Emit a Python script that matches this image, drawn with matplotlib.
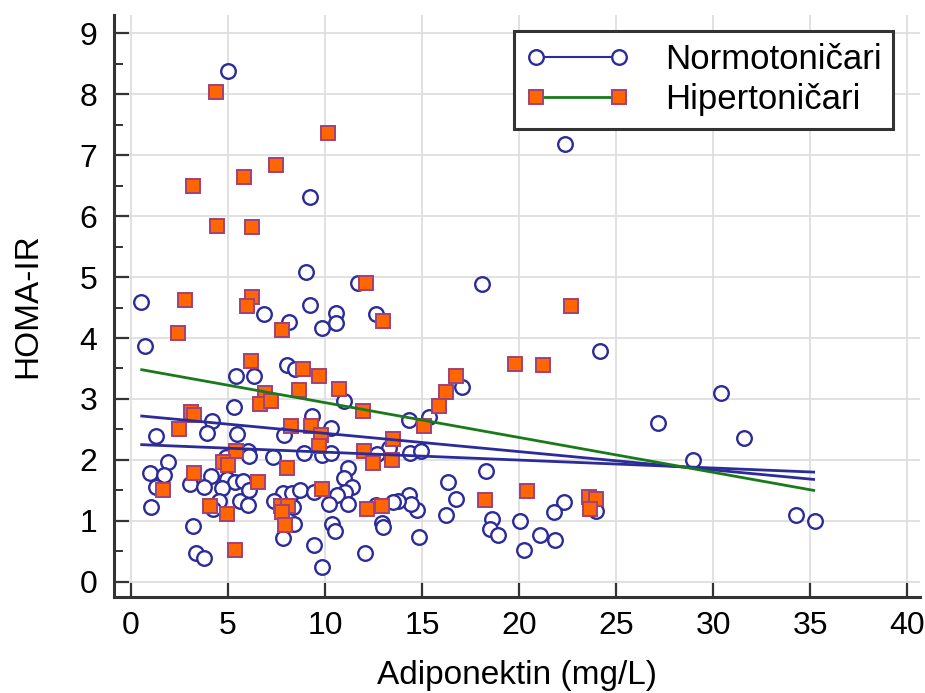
import matplotlib
matplotlib.use("Agg")
import matplotlib.pyplot as plt
from matplotlib.lines import Line2D

plt.rcParams["font.family"] = ["Liberation Sans", "DejaVu Sans"]

# Normotoničari (adiponektin mg/L, HOMA-IR)
normo_x = [5.02, 9.21, 8.99, 11.68, 22.37, 18.1, 12.63, 24.18, 17.06, 14.33,
           15.36, 13.27, 12.66, 14.35, 14.93, 18.28, 16.31, 14.31, 16.72, 22.32,
           23.94, 21.77, 18.59, 20.05, 18.5, 18.9, 21.05, 21.86, 20.27, 16.24,
           14.74, 14.42, 13.75, 13.49, 12.63, 12.94, 12.98, 14.83, 12.08, 27.13,
           30.41, 31.6, 28.97, 34.26, 35.24,
           0.53, 0.7, 5.43, 6.31, 5.31, 4.18, 3.93, 5.46, 1.31,
           9.24, 6.86, 8.16, 9.86, 10.55, 10.55, 8.02, 8.45, 10.96, 9.31, 10.29, 7.9,
           4.91, 1.91, 1.0, 1.69, 4.14, 4.96, 5.38, 5.77, 1.27, 3.02, 3.76, 4.71,
           5.6, 4.54, 4.23, 1.01, 3.2, 3.33, 3.76,
           6.01, 6.08, 7.34, 8.93, 9.86, 10.28, 11.17, 10.95, 11.38, 11.0, 10.6,
           6.08, 6.01, 7.85, 8.28, 8.71, 7.39, 8.33, 8.42, 9.45, 10.21, 11.17,
           10.35, 10.52, 7.85, 9.43, 9.83]
normo_y = [8.38, 6.32, 5.09, 4.91, 7.19, 4.88, 4.4, 3.79, 3.19, 2.66,
           2.71, 2.19, 2.09, 2.12, 2.15, 1.81, 1.63, 1.43, 1.36, 1.31,
           1.16, 1.14, 1.03, 0.99, 0.87, 0.77, 0.77, 0.69, 0.52, 1.1,
           1.18, 1.27, 1.33, 1.31, 1.26, 0.96, 0.9, 0.74, 0.48, 2.6,
           3.09, 2.36, 2.0, 1.09, 1.0,
           4.59, 3.87, 3.38, 3.37, 2.86, 2.64, 2.44, 2.43, 2.4,
           4.54, 4.4, 4.27, 4.16, 4.41, 4.25, 3.56, 3.49, 2.97, 2.72, 2.53, 2.41,
           2.05, 1.97, 1.78, 1.75, 1.74, 1.68, 1.64, 1.66, 1.55, 1.6, 1.56, 1.54,
           1.33, 1.32, 1.2, 1.23, 0.92, 0.48, 0.39,
           2.14, 2.07, 2.05, 2.11, 2.08, 2.11, 1.87, 1.7, 1.56, 1.48, 1.43,
           1.51, 1.26, 1.46, 1.46, 1.51, 1.33, 1.23, 0.95, 1.47, 1.28, 1.28,
           0.95, 0.84, 0.72, 0.61, 0.25]

# Hipertoničari
hiper_x = [4.38, 10.14, 7.49, 5.84, 3.21, 4.42, 6.25, 12.11, 22.66, 12.97,
           19.79, 21.2, 16.75, 16.22, 15.86, 15.07, 11.94, 13.49, 11.98, 12.46,
           13.44, 20.4, 18.23, 23.59, 23.97, 23.66, 12.15, 12.92,
           2.8, 2.42, 6.25, 6.0, 6.19, 3.1, 3.25, 2.46,
           7.8, 8.85, 9.66, 6.91, 6.65, 7.22, 8.64, 10.72, 8.23, 9.28, 9.79,
           5.43, 4.74, 4.98, 3.25, 1.65, 4.09, 4.95, 5.38,
           9.66, 8.02, 6.53, 7.73, 8.08, 7.77, 7.94, 9.83]
hiper_y = [8.04, 7.37, 6.84, 6.64, 6.5, 5.84, 5.82, 4.91, 4.53, 4.28,
           3.57, 3.56, 3.37, 3.12, 2.89, 2.55, 2.8, 2.34, 2.14, 1.95,
           2.0, 1.49, 1.34, 1.39, 1.36, 1.19, 1.2, 1.25,
           4.62, 4.09, 4.67, 4.52, 3.63, 2.78, 2.74, 2.51,
           4.13, 3.49, 3.38, 3.09, 2.91, 2.97, 3.14, 3.16, 2.56, 2.55, 2.41,
           2.14, 1.96, 1.91, 1.78, 1.51, 1.25, 1.11, 0.52,
           2.22, 1.86, 1.63, 1.25, 1.25, 1.14, 0.93, 1.52]

# regression lines (end points)
line_x = [0.55, 35.17]
normo_line1_y = [2.72, 1.68]
normo_line2_y = [2.25, 1.80]
hiper_line_y = [3.48, 1.50]

blue = "#2b2b99"
green = "#1a7a1a"
orange = "#ff6600"
sq_edge = "#a2407a"

fig = plt.figure(figsize=(9.25, 6.93), dpi=100)
ax = fig.add_axes([0.1232, 0.1385, 0.8714, 0.8398])

ax.plot(normo_x, normo_y, "o", ms=10.5, mfc="white", mec=blue, mew=1.7,
        linestyle="none", zorder=3)
ax.plot(hiper_x, hiper_y, "s", ms=10.5, mfc=orange, mec=sq_edge, mew=1.4,
        linestyle="none", zorder=3)

ax.plot(line_x, normo_line1_y, color=blue, lw=2.0, zorder=4)
ax.plot(line_x, normo_line2_y, color=blue, lw=2.0, zorder=4)
ax.plot(line_x, hiper_line_y, color=green, lw=2.0, zorder=4)

ax.set_xlim(-0.88, 40.65)
ax.set_ylim(-0.25, 9.3)
ax.set_xticks(range(0, 41, 5))
ax.set_yticks(range(0, 10))
ax.set_yticks([i + 0.5 for i in range(9)], minor=True)

ax.grid(True, color="#dedede", lw=1.3, zorder=0)
ax.set_axisbelow(True)

for side in ["top", "right"]:
    ax.spines[side].set_visible(False)
for side in ["left", "bottom"]:
    ax.spines[side].set_linewidth(2.2)
    ax.spines[side].set_color("#333333")

ax.tick_params(axis="both", which="major", direction="in", length=11,
               width=1.6, color="#333333", labelsize=23, pad=10)
ax.tick_params(axis="y", which="major", pad=12)
ax.tick_params(axis="y", which="minor", direction="in", length=6.5,
               width=1.4, color="#333333")

ax.set_xlabel("Adiponektin (mg/L)", fontsize=24, labelpad=14)
ax.set_ylabel("HOMA-IR", fontsize=24, labelpad=26)

handles = [
    Line2D([], [], color=blue, lw=1.5, marker="o", ms=10.5, mfc="white",
           mec=blue, mew=1.7),
    Line2D([], [], color=green, lw=2.0, marker="s", ms=10.5, mfc=orange,
           mec=sq_edge, mew=1.4),
]
leg = ax.legend(handles, ["Normotoničari", "Hipertoničari"], numpoints=2,
                loc="upper right", bbox_to_anchor=(0.967, 0.972),
                fontsize=25, handlelength=3.0, handletextpad=1.0,
                labelspacing=0.2, borderpad=0.35, borderaxespad=0,
                fancybox=False, framealpha=1, edgecolor="#333333")
leg.get_frame().set_linewidth(2.2)

fig.savefig("out.png", dpi=100)
